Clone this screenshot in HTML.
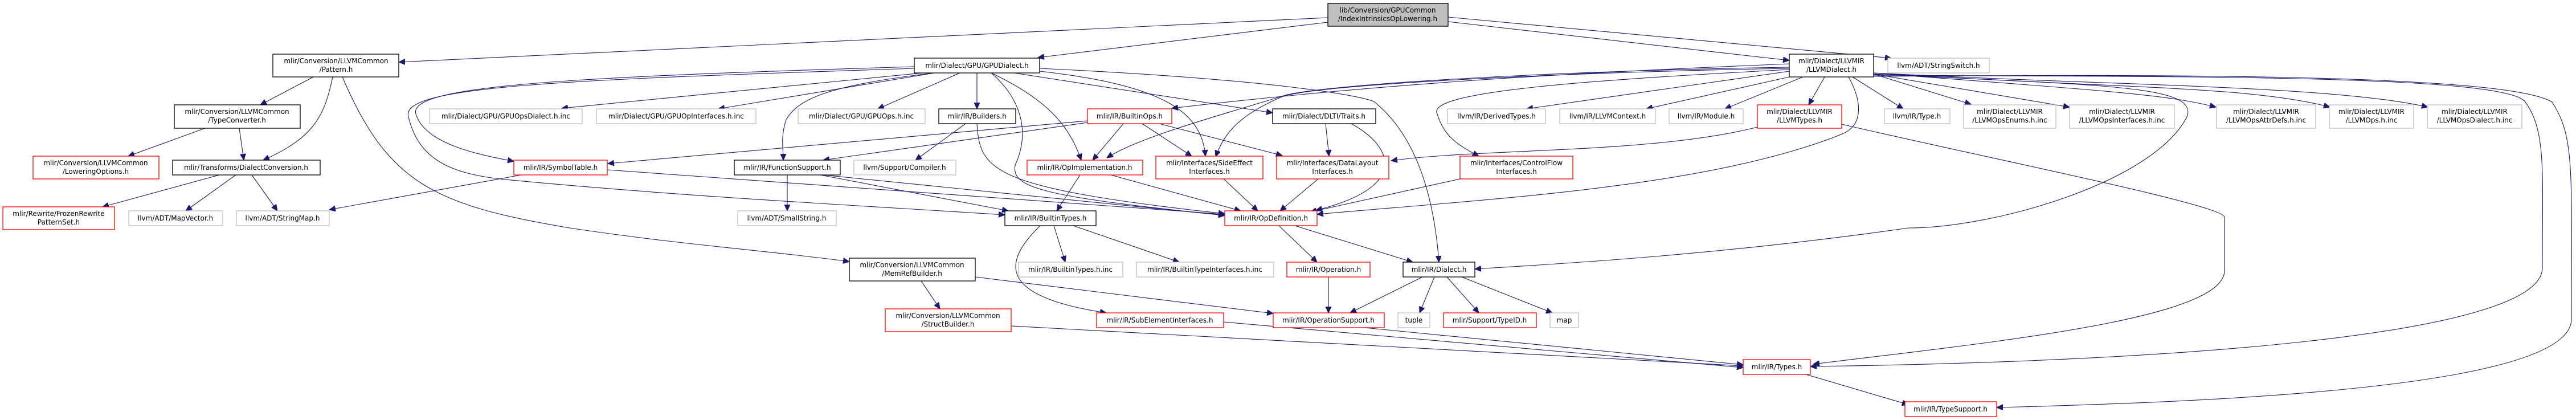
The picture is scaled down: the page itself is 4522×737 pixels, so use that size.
<!DOCTYPE html>
<html><head><meta charset="utf-8"><style>
html,body{margin:0;padding:0;background:#fff;}
svg{display:block;}
text{font-family:"DejaVu Sans","Liberation Sans",sans-serif;font-size:12px;fill:#000;text-anchor:middle;}
.k{fill:#fff;stroke:#000;stroke-width:1.3;}
.r{fill:#fff;stroke:#ff0000;stroke-width:1.3;}
.g{fill:#fff;stroke:#bfbfbf;stroke-width:1.3;}
.root{fill:#bfbfbf;stroke:#000;stroke-width:1.3;}
path{fill:none;stroke:#191970;stroke-width:1.1;marker-end:url(#a);}
</style></head><body>
<svg width="4522" height="737" viewBox="0 0 4522 737" xmlns="http://www.w3.org/2000/svg">
<defs><marker id="a" markerUnits="userSpaceOnUse" markerWidth="12" markerHeight="10" refX="11" refY="5" orient="auto"><polygon points="0,0 11,5 0,10" fill="#191970" stroke="#191970"/></marker></defs>

<!-- edges -->
<path d="M2331,31 L700,109"/>
<path d="M2331,39 L1822,101"/>
<path d="M2542,38 L3141,106"/>
<path d="M2542,30 L3320,102"/>

<path d="M550,135 L457,184"/>
<path d="M584,135 C570,200 555,240 462,281"/>
<path d="M601,135 C680,320 760,360 1000,400 C1200,430 1350,440 1491,459"/>
<path d="M360,225 L225,274"/>
<path d="M420,225 L428,281"/>
<path d="M385,307 L180,363"/>
<path d="M414,307 L326,370"/>
<path d="M442,307 L487,370"/>
<path d="M915,307 L578,368"/>
<path d="M1617,493 L1650,542"/>
<path d="M1712,486 L2235,550"/>
<path d="M1775,572 L3060,642"/>

<path d="M1640,126 L986,190"/>
<path d="M1640,128 L1261,191"/>
<path d="M1685,128 L1541,191"/>
<path d="M1715,128 L1715,191"/>
<path d="M1605,117 C1000,135 715,150 730,200 C745,250 830,270 902,283"/>
<path d="M1605,120 C1000,140 700,150 717,205 C735,280 790,305 887,315 C1200,345 1500,360 1764,377"/>
<path d="M1640,128 C1450,150 1400,175 1380,210 C1370,240 1375,260 1375,281"/>
<path d="M1740,128 C1850,180 1880,230 1898,281"/>
<path d="M1740,128 C1800,180 1805,240 1782,290 C1775,330 1830,345 2150,378"/>
<path d="M1825,125 C2050,150 2110,200 2116,274"/>
<path d="M1780,128 L2234,198"/>
<path d="M1825,120 C2250,140 2400,170 2413,179 C2500,250 2520,380 2526,460"/>

<path d="M1695,217 L1607,281"/>
<path d="M1715,217 C1720,300 1740,330 2150,375"/>
<path d="M1909,215 L1445,281"/>
<path d="M1909,212 L1067,287"/>
<path d="M1972,217 L1918,281"/>
<path d="M2005,217 L2092,274"/>
<path d="M2035,217 L2251,273"/>
<path d="M3141,112 C2700,130 2400,150 2057,190"/>
<path d="M1896,307 L1855,370"/>
<path d="M1950,307 L2178,370"/>
<path d="M2148,314 L2208,370"/>
<path d="M1382,307 L1382,370"/>
<path d="M1440,307 L1770,370"/>
<path d="M1445,307 L2150,378"/>
<path d="M1066,298 L2150,376"/>
<path d="M1850,396 L1870,460"/>
<path d="M1884,396 L2070,460"/>
<path d="M1826,396 C1760,460 1750,520 1942,549"/>
<path d="M2148,565 L3060,645"/>
<path d="M2327,217 L2333,274"/>
<path d="M2372,217 C2450,260 2470,330 2310,369"/>
<path d="M2314,314 L2247,370"/>
<path d="M2563,314 L2300,372"/>
<path d="M3245,135 C3270,180 3270,220 3234,235 C3000,330 2600,350 2312,376"/>
<path d="M3085,223 C2900,270 2600,260 2442,282"/>
<path d="M3233,218 C3500,280 3905,360 3905,381 L3905,475 C3905,560 3500,600 3183,639"/>
<path d="M2245,396 L2312,460"/>
<path d="M2273,396 L2480,460"/>
<path d="M2332,486 L2332,549"/>
<path d="M2497,486 L2370,549"/>
<path d="M2518,486 L2492,549"/>
<path d="M2540,486 L2596,549"/>
<path d="M2566,486 L2725,549"/>
<path d="M3289,130 C3700,150 3860,150 3839,205 C3780,320 3500,400 3350,400 C3000,450 2700,465 2589,472"/>
<path d="M2395,575 L3060,640"/>
<path d="M3170,657 L3350,710"/>
<path d="M3289,132 C3800,135 4400,130 4433,179 C4470,230 4463,300 4463,470 C4463,590 3800,635 3178,643"/>
<path d="M3289,134 C3800,130 4400,130 4480,179 C4520,240 4514,300 4514,560 C4514,680 3900,705 3505,715"/>
<path d="M3141,125 L2680,191"/>
<path d="M3150,133 L2890,191"/>
<path d="M3165,135 L3028,191"/>
<path d="M3203,135 L3175,184"/>
<path d="M3252,135 L3341,191"/>
<path d="M3289,130 L3460,183"/>
<path d="M3289,130 L3633,188"/>
<path d="M3289,128 C3700,160 3800,165 3890,188"/>
<path d="M3289,128 C3700,155 3950,150 4090,188"/>
<path d="M3289,128 C3700,150 4100,150 4262,188"/>
<path d="M3141,122 C2800,140 2500,160 2523,200 C2535,240 2560,255 2596,274"/>
<path d="M3141,118 C2700,125 2300,150 2250,169 C2150,200 2000,240 1943,277"/>
<path d="M3141,120 C2700,128 2300,150 2250,170 C2180,200 2150,230 2134,275"/>

<!-- nodes -->
<rect class="root" x="2331" y="6" width="211" height="40"/><text x="2436" y="22">lib/Conversion/GPUCommon</text><text x="2436" y="37">/IndexIntrinsicsOpLowering.h</text>
<rect class="k" x="479" y="95" width="221" height="40"/><text x="590" y="111">mlir/Conversion/LLVMCommon</text><text x="590" y="126">/Pattern.h</text>
<rect class="k" x="306" y="184" width="221" height="41"/><text x="416" y="200">mlir/Conversion/LLVMCommon</text><text x="416" y="215">/TypeConverter.h</text>
<rect class="r" x="58" y="274" width="221" height="40"/><text x="168" y="290">mlir/Conversion/LLVMCommon</text><text x="168" y="305">/LoweringOptions.h</text>
<rect class="k" x="303" y="281" width="259" height="26"/><text x="432" y="298">mlir/Transforms/DialectConversion.h</text>
<rect class="r" x="5" y="363" width="196" height="40"/><text x="103" y="379">mlir/Rewrite/FrozenRewrite</text><text x="103" y="394">PatternSet.h</text>
<rect class="g" x="226" y="370" width="165" height="26"/><text x="308" y="387">llvm/ADT/MapVector.h</text>
<rect class="g" x="415" y="370" width="163" height="26"/><text x="496" y="387">llvm/ADT/StringMap.h</text>
<rect class="g" x="754" y="191" width="268" height="26"/><text x="888" y="208">mlir/Dialect/GPU/GPUOpsDialect.h.inc</text>
<rect class="r" x="902" y="281" width="164" height="26"/><text x="984" y="298">mlir/IR/SymbolTable.h</text>
<rect class="g" x="1047" y="191" width="280" height="26"/><text x="1187" y="208">mlir/Dialect/GPU/GPUOpInterfaces.h.inc</text>
<rect class="g" x="1401" y="191" width="223" height="26"/><text x="1512" y="208">mlir/Dialect/GPU/GPUOps.h.inc</text>
<rect class="k" x="1648" y="191" width="135" height="26"/><text x="1715" y="208">mlir/IR/Builders.h</text>
<rect class="r" x="1909" y="191" width="148" height="26"/><text x="1983" y="208">mlir/IR/BuiltinOps.h</text>
<rect class="k" x="1605" y="102" width="220" height="26"/><text x="1715" y="119">mlir/Dialect/GPU/GPUDialect.h</text>
<rect class="k" x="1289" y="281" width="186" height="26"/><text x="1382" y="298">mlir/IR/FunctionSupport.h</text>
<rect class="g" x="1499" y="281" width="179" height="26"/><text x="1588" y="298">llvm/Support/Compiler.h</text>
<rect class="r" x="1803" y="281" width="203" height="26"/><text x="1904" y="298">mlir/IR/OpImplementation.h</text>
<rect class="r" x="2029" y="274" width="188" height="40"/><text x="2123" y="290">mlir/Interfaces/SideEffect</text><text x="2123" y="305">Interfaces.h</text>
<rect class="g" x="1295" y="370" width="173" height="26"/><text x="1381" y="387">llvm/ADT/SmallString.h</text>
<rect class="k" x="1764" y="370" width="160" height="26"/><text x="1844" y="387">mlir/IR/BuiltinTypes.h</text>
<rect class="r" x="2150" y="370" width="162" height="26"/><text x="2231" y="387">mlir/IR/OpDefinition.h</text>
<rect class="k" x="1491" y="453" width="221" height="40"/><text x="1601" y="469">mlir/Conversion/LLVMCommon</text><text x="1601" y="484">/MemRefBuilder.h</text>
<rect class="g" x="1788" y="460" width="183" height="26"/><text x="1879" y="477">mlir/IR/BuiltinTypes.h.inc</text>
<rect class="g" x="1995" y="460" width="241" height="26"/><text x="2115" y="477">mlir/IR/BuiltinTypeInterfaces.h.inc</text>
<rect class="r" x="1554" y="542" width="221" height="40"/><text x="1664" y="558">mlir/Conversion/LLVMCommon</text><text x="1664" y="573">/StructBuilder.h</text>
<rect class="r" x="1925" y="549" width="223" height="26"/><text x="2036" y="566">mlir/IR/SubElementInterfaces.h</text>
<rect class="k" x="3141" y="95" width="148" height="40"/><text x="3215" y="111">mlir/Dialect/LLVMIR</text><text x="3215" y="126">/LLVMDialect.h</text>
<rect class="g" x="3314" y="102" width="178" height="26"/><text x="3403" y="119">llvm/ADT/StringSwitch.h</text>
<rect class="k" x="2234" y="191" width="181" height="26"/><text x="2324" y="208">mlir/Dialect/DLTI/Traits.h</text>
<rect class="g" x="2541" y="191" width="172" height="26"/><text x="2627" y="208">llvm/IR/DerivedTypes.h</text>
<rect class="g" x="2738" y="191" width="168" height="26"/><text x="2822" y="208">llvm/IR/LLVMContext.h</text>
<rect class="g" x="2930" y="191" width="130" height="26"/><text x="2995" y="208">llvm/IR/Module.h</text>
<rect class="r" x="3085" y="184" width="148" height="41"/><text x="3159" y="200">mlir/Dialect/LLVMIR</text><text x="3159" y="215">/LLVMTypes.h</text>
<rect class="g" x="3308" y="191" width="115" height="26"/><text x="3365" y="208">llvm/IR/Type.h</text>
<rect class="r" x="2241" y="274" width="197" height="40"/><text x="2339" y="290">mlir/Interfaces/DataLayout</text><text x="2339" y="305">Interfaces.h</text>
<rect class="r" x="2563" y="274" width="198" height="40"/><text x="2662" y="290">mlir/Interfaces/ControlFlow</text><text x="2662" y="305">Interfaces.h</text>
<rect class="r" x="2259" y="460" width="146" height="26"/><text x="2332" y="477">mlir/IR/Operation.h</text>
<rect class="k" x="2463" y="460" width="126" height="26"/><text x="2526" y="477">mlir/IR/Dialect.h</text>
<rect class="r" x="2235" y="549" width="195" height="26"/><text x="2332" y="566">mlir/IR/OperationSupport.h</text>
<rect class="g" x="2454" y="549" width="56" height="26"/><text x="2482" y="566">tuple</text>
<rect class="r" x="2534" y="549" width="163" height="26"/><text x="2615" y="566">mlir/Support/TypeID.h</text>
<rect class="g" x="2721" y="549" width="50" height="26"/><text x="2746" y="566">map</text>
<rect class="r" x="3060" y="631" width="118" height="26"/><text x="3119" y="648">mlir/IR/Types.h</text>
<rect class="r" x="3344" y="705" width="161" height="26"/><text x="3424" y="722">mlir/IR/TypeSupport.h</text>
<rect class="g" x="3447" y="184" width="162" height="41"/><text x="3528" y="200">mlir/Dialect/LLVMIR</text><text x="3528" y="215">/LLVMOpsEnums.h.inc</text>
<rect class="g" x="3633" y="184" width="184" height="41"/><text x="3725" y="200">mlir/Dialect/LLVMIR</text><text x="3725" y="215">/LLVMOpsInterfaces.h.inc</text>
<rect class="g" x="3891" y="184" width="174" height="41"/><text x="3978" y="200">mlir/Dialect/LLVMIR</text><text x="3978" y="215">/LLVMOpsAttrDefs.h.inc</text>
<rect class="g" x="4089" y="184" width="148" height="41"/><text x="4163" y="200">mlir/Dialect/LLVMIR</text><text x="4163" y="215">/LLVMOps.h.inc</text>
<rect class="g" x="4261" y="184" width="166" height="41"/><text x="4344" y="200">mlir/Dialect/LLVMIR</text><text x="4344" y="215">/LLVMOpsDialect.h.inc</text>
</svg>
</body></html>
